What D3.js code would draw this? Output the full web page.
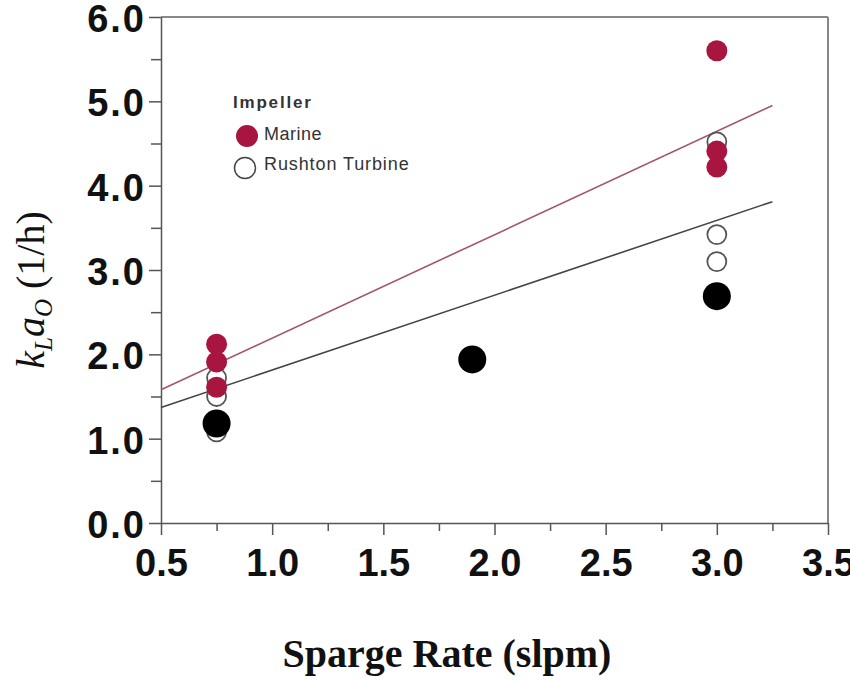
<!DOCTYPE html>
<meta charset="utf-8">
<style>
body { margin: 0; background: #fff; }
.tick text { font-family: Arial, "Liberation Sans", sans-serif; font-weight: bold; fill: #111; }
.axis path, .axis line { stroke: #555; stroke-width: 1.5; }
.legend text { font-family: Arial, "Liberation Sans", sans-serif; fill: #333; }
</style>
<svg width="850" height="681"></svg>
<script src="https://d3js.org/d3.v7.min.js"></script>
<script>
// data
var marineX = [0.75, 0.75, 0.75, 3.0, 3.0, 3.0];
var marineY = [2.12, 1.91, 1.61, 5.6, 4.41, 4.22];
var rushtonX = [0.75, 0.75, 0.75, 3.0, 3.0, 3.0];
var rushtonY = [1.72, 1.50, 1.08, 4.52, 3.42, 3.10];
var blackX = [0.75, 1.9, 3.0];
var blackY = [1.18, 1.94, 2.69];
var marineFitX = [0.5, 3.25];
var marineFitY = [1.58, 4.95];
var rushtonFitX = [0.5, 3.25];
var rushtonFitY = [1.37, 3.81];
var xTicks = [0.5, 1.0, 1.5, 2.0, 2.5, 3.0, 3.5];
var yTicks = [0, 1, 2, 3, 4, 5, 6];

var marineColour = "#a8153f";

var svg = d3.select("svg");
var plotLeft = 161, plotRight = 828, plotTop = 17, plotBottom = 523;

var x = d3.scaleLinear().domain([0.5, 3.5]).range([plotLeft, plotRight]);
var y = d3.scaleLinear().domain([0, 6]).range([plotBottom, plotTop]);

// frame top & right
svg.append("line").attr("x1", plotLeft).attr("x2", plotRight).attr("y1", plotTop).attr("y2", plotTop)
  .style("stroke", "#888").style("stroke-width", 2);
svg.append("line").attr("x1", plotRight).attr("x2", plotRight).attr("y1", plotTop).attr("y2", plotBottom)
  .style("stroke", "#888").style("stroke-width", 2);

// minor ticks
svg.append("g").attr("class", "axis")
  .attr("transform", "translate(0," + plotBottom + ")")
  .call(d3.axisBottom(x).tickValues(d3.range(0.75, 3.5, 0.5)).tickSize(8).tickFormat(""))
  .select(".domain").remove();
svg.append("g").attr("class", "axis")
  .attr("transform", "translate(" + plotLeft + ",0)")
  .call(d3.axisLeft(y).tickValues(d3.range(0.5, 6, 1)).tickSize(10).tickFormat(""))
  .select(".domain").remove();

// major axes
svg.append("g").attr("class", "axis")
  .attr("transform", "translate(0," + plotBottom + ")")
  .call(d3.axisBottom(x).tickValues(xTicks).tickSize(12).tickSizeOuter(0).tickPadding(8).tickFormat(d3.format(".1f")))
  .selectAll("text").attr("dy", "0.88em").style("font-size", "38px");
svg.append("g").attr("class", "axis")
  .attr("transform", "translate(" + plotLeft + ",0)")
  .call(d3.axisLeft(y).tickValues(yTicks).tickSize(12).tickSizeOuter(0).tickPadding(3).tickFormat(d3.format(".1f")))
  .selectAll("text").attr("dy", "0.38em").style("font-size", "38px").style("letter-spacing", "2px");

// fit lines
var line = d3.line().x(function(d){ return x(d[0]); }).y(function(d){ return y(d[1]); });
svg.append("path").attr("d", line(d3.zip(marineFitX, marineFitY)))
  .style("fill", "none").style("stroke", "#a3566a").style("stroke-width", 1.6);
svg.append("path").attr("d", line(d3.zip(rushtonFitX, rushtonFitY)))
  .style("fill", "none").style("stroke", "#444").style("stroke-width", 1.6);

// open circles
svg.selectAll(".rushton").data(d3.zip(rushtonX, rushtonY)).enter()
  .append("circle").attr("class", "rushton")
  .attr("cx", function(d){ return x(d[0]); })
  .attr("cy", function(d){ return y(d[1]); })
  .attr("r", 9.5)
  .style("fill", "none").style("stroke", "#555").style("stroke-width", 1.8);

// marine
svg.selectAll(".marine").data(d3.zip(marineX, marineY)).enter()
  .append("circle").attr("class", "marine")
  .attr("cx", function(d){ return x(d[0]); })
  .attr("cy", function(d){ return y(d[1]); })
  .attr("r", 10.5)
  .style("fill", marineColour);

// big black
svg.selectAll(".black").data(d3.zip(blackX, blackY)).enter()
  .append("circle").attr("class", "black")
  .attr("cx", function(d){ return x(d[0]); })
  .attr("cy", function(d){ return y(d[1]); })
  .attr("r", 14)
  .style("fill", "#000");

// legend
var legend = svg.append("g").attr("class", "legend");
legend.append("text").attr("x", 233).attr("y", 108).text("Impeller")
  .style("font-weight", "bold").style("font-size", "17px").style("letter-spacing", "1.8px");
legend.append("circle").attr("cx", 247).attr("cy", 136).attr("r", 11).style("fill", marineColour);
legend.append("text").attr("x", 264).attr("y", 140).text("Marine")
  .style("font-size", "18px").style("letter-spacing", "0.5px");
legend.append("circle").attr("cx", 245).attr("cy", 168).attr("r", 10.5)
  .style("fill", "none").style("stroke", "#444").style("stroke-width", 1.5);
legend.append("text").attr("x", 264).attr("y", 170).text("Rushton Turbine")
  .style("font-size", "18px").style("letter-spacing", "0.9px");

// axis titles
svg.append("text").attr("x", 447).attr("y", 667).attr("text-anchor", "middle")
  .style("font-family", "'Times New Roman', 'Liberation Serif', serif")
  .style("font-weight", "bold").style("font-size", "40px").style("fill", "#111")
  .text("Sparge Rate (slpm)");

var yt = svg.append("text").attr("transform", "translate(44,290) rotate(-90)")
  .attr("text-anchor", "middle")
  .style("font-family", "'Times New Roman', 'Liberation Serif', serif")
  .style("font-size", "40px").style("fill", "#111");
yt.append("tspan").style("font-style", "italic").text("k");
yt.append("tspan").style("font-style", "italic").style("font-size", "25px").attr("dy", 8).text("L");
yt.append("tspan").style("font-style", "italic").attr("dy", -8).text("a");
yt.append("tspan").style("font-style", "italic").style("font-size", "25px").attr("dy", 8).text("O");
yt.append("tspan").attr("dy", -8).text(" (1/h)");
</script>
